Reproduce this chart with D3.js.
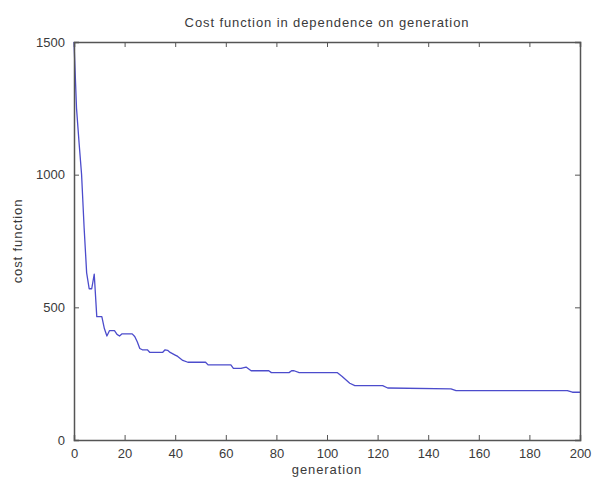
<!DOCTYPE html>
<html>
<head>
<meta charset="utf-8">
<script src="https://cdn.jsdelivr.net/npm/d3@7"></script>
<style>
  html, body { margin: 0; padding: 0; background: #fff; }
  svg text { font-family: "Liberation Sans", Arial, sans-serif; fill: #3a3a3a; }
</style>
</head>
<body>
<svg id="chart" width="595" height="480"></svg>
<script>
// Best cost per generation (breakpoints of the convergence curve)
const generations = [0, 1, 2, 3, 4, 5, 6, 7, 8, 9, 11, 12, 13, 14, 16, 17, 18, 19, 23, 24, 25, 26, 27, 29, 30, 35, 36, 37, 38, 40, 41, 43, 45, 52, 53, 62, 63, 66, 68, 70, 77, 78, 85, 86, 87, 89, 104, 106, 109, 111, 122, 124, 149, 151, 195, 197, 200];
const costs = [1500, 1250, 1120, 1000, 800, 630, 570, 570, 625, 465, 465, 420, 392, 412, 412, 398, 392, 400, 400, 390, 370, 345, 340, 340, 330, 330, 340, 338, 330, 320, 315, 300, 293, 293, 283, 283, 270, 270, 275, 261, 261, 254, 254, 261, 261, 254, 254, 239, 214, 205, 205, 196, 193, 186, 186, 180, 180];

const xTicks = [0, 20, 40, 60, 80, 100, 120, 140, 160, 180, 200];
const yTicks = [0, 500, 1000, 1500];

const titleText = "Cost function in dependence on generation";
const xLabel = "generation";
const yLabel = "cost function";

const margin = { left: 74, right: 15, top: 42, bottom: 40 };
const W = 595, H = 480;
const iw = W - margin.left - margin.right;
const ih = H - margin.top - margin.bottom;

const svg = d3.select("#chart");
const plot = svg.append("g").attr("transform", `translate(${margin.left},${margin.top})`);

const x = d3.scaleLinear().domain([0, 200]).range([0, iw]);
const y = d3.scaleLinear().domain([0, 1500]).range([ih, 0]);

// plot area
plot.append("rect").attr("width", iw).attr("height", ih).attr("fill", "#fff");

// data line
const data = generations.map((gen, i) => ({ gen, cost: costs[i] }));
plot.append("path")
  .datum(data)
  .attr("fill", "none")
  .attr("stroke", "#4c4ccc")
  .attr("stroke-width", 1.3)
  .attr("stroke-linejoin", "round")
  .attr("d", d3.line().x(d => x(d.gen)).y(d => y(d.cost)));

const axisColor = "#555";
const tickLen = 5;

// bottom axis (ticks pointing inward)
const axBottom = plot.append("g").attr("transform", `translate(0,${ih})`)
  .call(d3.axisBottom(x).tickValues(xTicks).tickSize(-tickLen).tickPadding(9).tickFormat(d3.format("d")));
// top axis (ticks only)
const axTop = plot.append("g")
  .call(d3.axisTop(x).tickValues(xTicks).tickSize(-tickLen).tickFormat(""));
// left axis
const axLeft = plot.append("g")
  .call(d3.axisLeft(y).tickValues(yTicks).tickSize(-tickLen).tickPadding(9).tickFormat(d3.format("d")));
// right axis (ticks only)
const axRight = plot.append("g").attr("transform", `translate(${iw},0)`)
  .call(d3.axisRight(y).tickValues(yTicks).tickSize(-tickLen).tickFormat(""));

[axBottom, axTop, axLeft, axRight].forEach(a => {
  a.select(".domain").attr("stroke", axisColor).attr("stroke-width", 1.5);
  a.selectAll(".tick line").attr("stroke", axisColor).attr("stroke-width", 1);
  a.selectAll(".tick text").attr("font-size", 13).attr("fill", "#444")
    .attr("font-family", "Liberation Sans, Arial, sans-serif");
});

// title and axis labels
svg.append("text")
  .attr("x", margin.left + iw / 2).attr("y", 27)
  .attr("text-anchor", "middle").attr("font-size", 13)
  .attr("letter-spacing", 0.9)
  .text(titleText);

svg.append("text")
  .attr("x", margin.left + iw / 2).attr("y", 474)
  .attr("text-anchor", "middle").attr("font-size", 13)
  .attr("letter-spacing", 0.9)
  .text(xLabel);

svg.append("text")
  .attr("transform", `translate(22,${margin.top + ih / 2}) rotate(-90)`)
  .attr("text-anchor", "middle").attr("font-size", 13)
  .attr("letter-spacing", 0.9)
  .text(yLabel);
</script>
</body>
</html>
